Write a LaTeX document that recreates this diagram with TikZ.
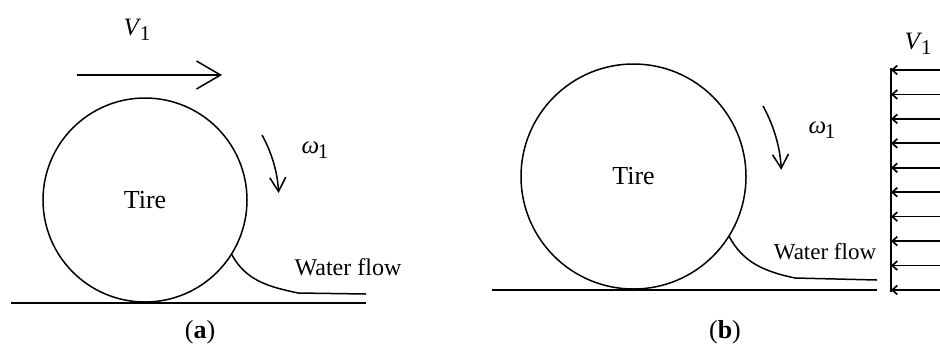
\documentclass[tikz,border=0pt]{standalone}
\usepackage{fontspec}
\setmainfont{Liberation Serif}
\usetikzlibrary{arrows.meta}
\newcommand{\lowsub}[1]{\kern-0.6pt\raisebox{-2.5pt}{\fontsize{10.5}{12}\selectfont #1}}

\begin{document}
\begin{tikzpicture}[x=0.5pt, y=0.5pt, line width=0.75pt,
    tire/.style={draw, circle, inner sep=0pt, outer sep=0pt, font=\fontsize{13}{15}\selectfont},
    lbl/.style={font=\fontsize{12}{14}\selectfont},
    sym/.style={font=\fontsize{12.5}{14}\selectfont},
    bigarrow/.style={-{Straight Barb[length=12pt, width=14pt]}},
    spin/.style={-{Straight Barb[length=7pt, width=8pt]}},
    jet/.style={-{Straight Barb[length=2.5pt, width=4.5pt]}}]
    \useasboundingbox (0,0) rectangle (940,345);
    \node[tire, minimum size=102pt] (tireA) at (145,145) {Tire};
    \coordinate (groundAL) at (11,42);
    \coordinate (groundAR) at (366,42);
    \draw (groundAL) -- (groundAR);
    \coordinate (velA) at (77,270);
    \coordinate (velAend) at (222,270);
    \draw[bigarrow] (velA) -- (velAend);
    \node[sym] (vA) at (137,315) {\textit{V}\lowsub{1}};
    \coordinate (spinA) at (262,210);
    \draw[spin] (spinA) arc[start angle=29, end angle=3, radius=134];
    \node[sym] (wA) at (315,195) {\textit{ω}\lowsub{1}};
    \coordinate (flowA) at (366,51);
    \draw (tireA.-32) to[out=-62, in=168] (298,52) -- (flowA);
    \node[lbl] (flowLabelA) at (348,78) {Water flow};
    \node[lbl, font=\fontsize{13}{15}\selectfont] (capA) at (200,13) {(\textbf{a})};

    \node[tire, minimum size=112.5pt] (tireB) at (633.5,168.5) {Tire};
    \coordinate (groundBL) at (492,55);
    \coordinate (groundBR) at (877,55);
    \draw (groundBL) -- (groundBR);
    \coordinate (spinB) at (763,239);
    \draw[spin] (spinB) arc[start angle=29, end angle=3, radius=147.5];
    \node[sym] (wB) at (822,215) {\textit{ω}\lowsub{1}};
    \coordinate (flowB) at (877,65);
    \draw (tireB.-32) to[out=-62, in=168] (795,67) -- (flowB);
    \node[lbl, font=\fontsize{11.5}{14}\selectfont] (flowLabelB) at (825,93) {Water flow};
    \coordinate (wallTop) at (891,277);
    \coordinate (wallBot) at (891,53);
    \draw[line width=1pt] (wallTop) -- (wallBot);
    \foreach \i in {0,...,9}{
        \coordinate (jet\i) at (940,{275-24.44*\i});
        \draw[jet, line width=0.85pt] (jet\i) -- (jet\i -| wallTop);
    }
    \node[sym] (vB) at (918,301) {\textit{V}\lowsub{1}};
    \node[lbl, font=\fontsize{13}{15}\selectfont] (capB) at (725,13) {(\textbf{b})};
\end{tikzpicture}
\end{document}
